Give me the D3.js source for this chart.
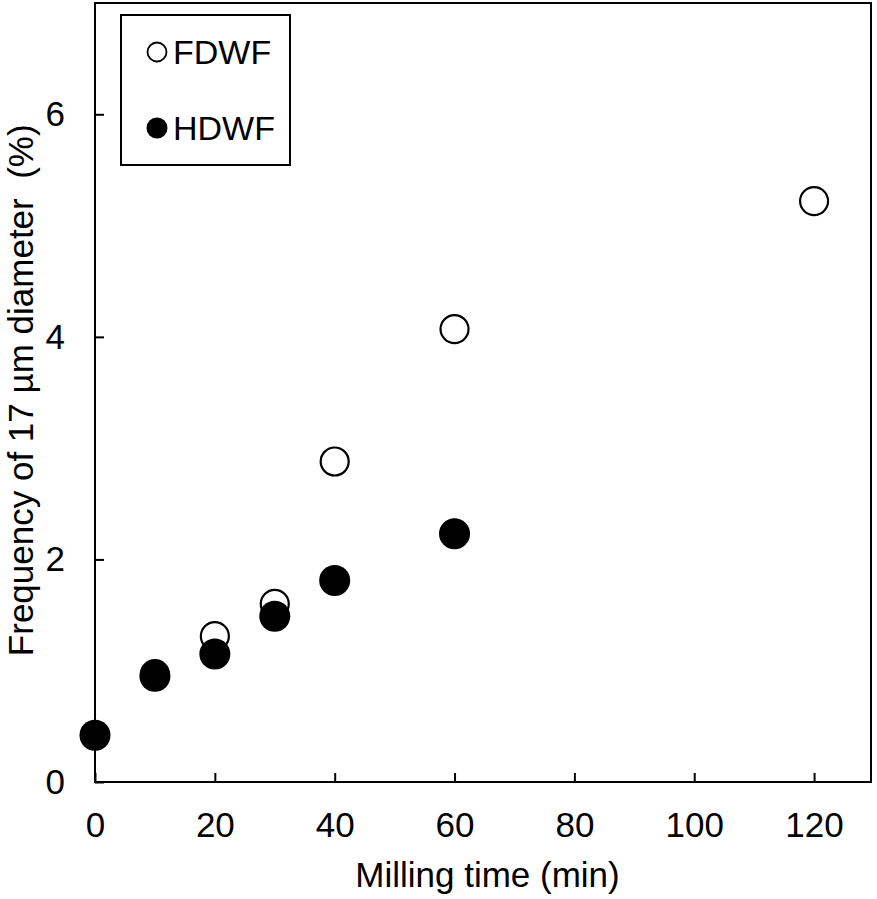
<!DOCTYPE html>
<html>
<head>
<meta charset="utf-8">
<script src="https://cdn.jsdelivr.net/npm/d3@7"></script>
<style>
  body { margin: 0; background: #fff; }
  text { font-family: "Liberation Sans", Arial, sans-serif; fill: #000; }
</style>
</head>
<body>
<div id="chart"></div>
<script>
// data
const times = [0, 10, 20, 30, 40, 60, 120];
const fdwf = [0.42, 0.97, 1.31, 1.60, 2.88, 4.07, 5.22];
const hdwfTimes = [0, 10, 20, 30, 40, 60];
const hdwf = [0.42, 0.95, 1.15, 1.49, 1.81, 2.23];
const xTicks = [0, 20, 40, 60, 80, 100, 120];
const yTicks = [0, 2, 4, 6];

let margin = {top: 3, right: 6, bottom: 117, left: 95},
    width = 877 - margin.left - margin.right,
    height = 899 - margin.top - margin.bottom;

let svg = d3.select("#chart")
    .append("svg")
    .attr("width", 877)
    .attr("height", 899)
    .append("g")
    .attr("transform", `translate(${margin.left}, ${margin.top})`);

const x = d3.scaleLinear().domain([0, 129.5]).range([0, width]);
const y = d3.scaleLinear().domain([0, 7]).range([height, 0]);

// frame
svg.append("rect")
    .attr("width", width).attr("height", height)
    .attr("fill", "none").attr("stroke", "#000").attr("stroke-width", 2);

// x axis, ticks inside
svg.append("g")
    .attr("transform", `translate(0, ${height})`)
    .call(d3.axisBottom(x).tickValues(xTicks).tickFormat(d3.format("d")).tickSizeInner(-9).tickSizeOuter(0).tickPadding(30))
    .call(g => g.select(".domain").remove())
    .call(g => g.selectAll("line").attr("stroke-width", 2))
    .call(g => g.selectAll("text").attr("font-size", 35).attr("font-family", "Liberation Sans, Arial, sans-serif"));

// y axis, ticks inside
svg.append("g")
    .call(d3.axisLeft(y).tickValues(yTicks).tickFormat(d3.format("d")).tickSizeInner(-9).tickSizeOuter(0).tickPadding(30))
    .call(g => g.select(".domain").remove())
    .call(g => g.selectAll("line").attr("stroke-width", 2))
    .call(g => g.selectAll("text").attr("font-size", 35).attr("font-family", "Liberation Sans, Arial, sans-serif"));

// axis titles
svg.append("text")
    .attr("text-anchor", "middle")
    .attr("x", x(65.5))
    .attr("y", height + 105)
    .attr("font-size", 35)
    .text("Milling time (min)");

svg.append("text")
    .attr("text-anchor", "middle")
    .attr("transform", `translate(-62, ${y(3.52)}) rotate(-90)`)
    .attr("font-size", 35)
    .style("white-space", "pre")
    .text("Frequency of 17 \u00b5m diameter  (%)");

// points
svg.selectAll(".fd")
    .data(times.map((t, i) => [t, fdwf[i]]))
    .join("circle")
    .attr("cx", d => x(d[0])).attr("cy", d => y(d[1]))
    .attr("r", 14)
    .attr("fill", "#fff").attr("stroke", "#000").attr("stroke-width", 2.2);

svg.selectAll(".hd")
    .data(hdwfTimes.map((t, i) => [t, hdwf[i]]))
    .join("circle")
    .attr("cx", d => x(d[0])).attr("cy", d => y(d[1]))
    .attr("r", 15.5)
    .attr("fill", "#000");

// legend
const leg = svg.append("g").attr("transform", "translate(26, 12)");
leg.append("rect")
    .attr("width", 169).attr("height", 150)
    .attr("fill", "#fff").attr("stroke", "#000").attr("stroke-width", 2);
const legItems = [["FDWF", false], ["HDWF", true]];
legItems.forEach((d, i) => {
    const cy = 37 + i * 76;
    leg.append("circle")
        .attr("cx", 36).attr("cy", cy).attr("r", d[1] ? 10.5 : 9.5)
        .attr("fill", d[1] ? "#000" : "#fff")
        .attr("stroke", "#000").attr("stroke-width", d[1] ? 0 : 1.8);
    leg.append("text")
        .attr("x", 52).attr("y", cy + 12)
        .attr("font-size", 34)
        .text(d[0]);
});
</script>
</body>
</html>
